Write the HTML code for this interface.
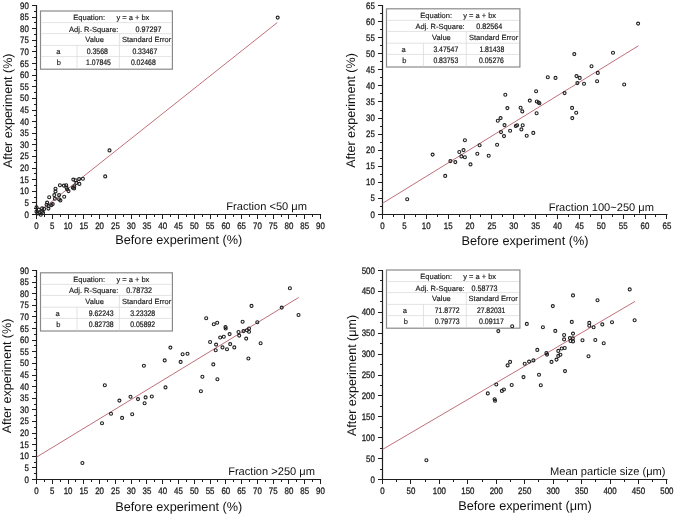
<!DOCTYPE html><html><head><meta charset="utf-8"><style>html,body{margin:0;padding:0;background:#fff;}svg{display:block;will-change:transform;}</style></head><body>
<svg width="675" height="515" viewBox="0 0 675 515" font-family='"Liberation Sans", sans-serif' text-rendering="geometricPrecision">
<rect width="675" height="515" fill="#fff"/>
<g><path d="M36.5 214.5V4.9 M35.9 214.5H321.1" stroke="#1e1e1e" stroke-width="1.2" fill="none"/><path d="M36.5 214.5v4.5M44.5 214.5v2.5M52.5 214.5v4.5M60.5 214.5v2.5M68.5 214.5v4.5M75.5 214.5v2.5M83.5 214.5v4.5M91.5 214.5v2.5M99.5 214.5v4.5M107.5 214.5v2.5M115.5 214.5v4.5M123.5 214.5v2.5M131.5 214.5v4.5M139.5 214.5v2.5M146.5 214.5v4.5M154.5 214.5v2.5M162.5 214.5v4.5M170.5 214.5v2.5M178.5 214.5v4.5M186.5 214.5v2.5M194.5 214.5v4.5M202.5 214.5v2.5M210.5 214.5v4.5M217.5 214.5v2.5M225.5 214.5v4.5M233.5 214.5v2.5M241.5 214.5v4.5M249.5 214.5v2.5M257.5 214.5v4.5M265.5 214.5v2.5M273.5 214.5v4.5M281.5 214.5v2.5M288.5 214.5v4.5M296.5 214.5v2.5M304.5 214.5v4.5M312.5 214.5v2.5M320.5 214.5v4.5M36.5 214.5h-4.5M36.5 208.5h-2.5M36.5 202.5h-4.5M36.5 197.5h-2.5M36.5 191.5h-4.5M36.5 185.5h-2.5M36.5 179.5h-4.5M36.5 173.5h-2.5M36.5 168.5h-4.5M36.5 162.5h-2.5M36.5 156.5h-4.5M36.5 150.5h-2.5M36.5 144.5h-4.5M36.5 139.5h-2.5M36.5 133.5h-4.5M36.5 127.5h-2.5M36.5 121.5h-4.5M36.5 115.5h-2.5M36.5 110.5h-4.5M36.5 104.5h-2.5M36.5 98.5h-4.5M36.5 92.5h-2.5M36.5 86.5h-4.5M36.5 80.5h-2.5M36.5 75.5h-4.5M36.5 69.5h-2.5M36.5 63.5h-4.5M36.5 57.5h-2.5M36.5 51.5h-4.5M36.5 46.5h-2.5M36.5 40.5h-4.5M36.5 34.5h-2.5M36.5 28.5h-4.5M36.5 22.5h-2.5M36.5 17.5h-4.5M36.5 11.5h-2.5M36.5 5.5h-4.5" stroke="#1e1e1e" stroke-width="1" fill="none"/><g font-size="9.3" fill="#1e1e1e" stroke="#1e1e1e" stroke-width="0.3" text-anchor="middle"><text transform="translate(36.5 228.5) scale(0.85 1)">0</text><text transform="translate(52.28 228.5) scale(0.85 1)">5</text><text transform="translate(68.06 228.5) scale(0.85 1)">10</text><text transform="translate(83.83 228.5) scale(0.85 1)">15</text><text transform="translate(99.61 228.5) scale(0.85 1)">20</text><text transform="translate(115.39 228.5) scale(0.85 1)">25</text><text transform="translate(131.17 228.5) scale(0.85 1)">30</text><text transform="translate(146.94 228.5) scale(0.85 1)">35</text><text transform="translate(162.72 228.5) scale(0.85 1)">40</text><text transform="translate(178.5 228.5) scale(0.85 1)">45</text><text transform="translate(194.28 228.5) scale(0.85 1)">50</text><text transform="translate(210.06 228.5) scale(0.85 1)">55</text><text transform="translate(225.83 228.5) scale(0.85 1)">60</text><text transform="translate(241.61 228.5) scale(0.85 1)">65</text><text transform="translate(257.39 228.5) scale(0.85 1)">70</text><text transform="translate(273.17 228.5) scale(0.85 1)">75</text><text transform="translate(288.94 228.5) scale(0.85 1)">80</text><text transform="translate(304.72 228.5) scale(0.85 1)">85</text><text transform="translate(320.5 228.5) scale(0.85 1)">90</text></g><g font-size="9.3" fill="#1e1e1e" stroke="#1e1e1e" stroke-width="0.3" text-anchor="end"><text transform="translate(28.9 217.5) scale(0.85 1)">0</text><text transform="translate(28.9 205.89) scale(0.85 1)">5</text><text transform="translate(28.9 194.28) scale(0.85 1)">10</text><text transform="translate(28.9 182.67) scale(0.85 1)">15</text><text transform="translate(28.9 171.06) scale(0.85 1)">20</text><text transform="translate(28.9 159.44) scale(0.85 1)">25</text><text transform="translate(28.9 147.83) scale(0.85 1)">30</text><text transform="translate(28.9 136.22) scale(0.85 1)">35</text><text transform="translate(28.9 124.61) scale(0.85 1)">40</text><text transform="translate(28.9 113) scale(0.85 1)">45</text><text transform="translate(28.9 101.39) scale(0.85 1)">50</text><text transform="translate(28.9 89.78) scale(0.85 1)">55</text><text transform="translate(28.9 78.17) scale(0.85 1)">60</text><text transform="translate(28.9 66.56) scale(0.85 1)">65</text><text transform="translate(28.9 54.94) scale(0.85 1)">70</text><text transform="translate(28.9 43.33) scale(0.85 1)">75</text><text transform="translate(28.9 31.72) scale(0.85 1)">80</text><text transform="translate(28.9 20.11) scale(0.85 1)">85</text><text transform="translate(28.9 8.5) scale(0.85 1)">90</text></g><text x="178.8" y="244.3" font-size="12.7" fill="#111" text-anchor="middle">Before experiment (%)</text><text transform="translate(11.5 110.8) rotate(-90)" font-size="12.5" fill="#111" text-anchor="middle">After experiment (%)</text><text x="307" y="210.3" font-size="11.1" fill="#111" text-anchor="end">Fraction <50 μm</text><line x1="36.5" y1="213.67" x2="277.27" y2="22.59" stroke="#c0707a" stroke-width="1"/><rect x="40.5" y="11" width="131.9" height="58.2" fill="#fff" stroke="#8a8a8a" stroke-width="1.2"/><path d="M41.5 22.6H171.4M41.5 33.6H171.4M41.5 45.4H171.4M41.5 56.6H171.4M77.04 45.4V68.6M119.38 33.6V68.6" stroke="#dcdcdc" stroke-width="0.8" fill="none"/><g font-size="7.5" fill="#1a1a1a" stroke="#1a1a1a" stroke-width="0.16"><text x="73.3" y="19.8">Equation:</text><text x="116.4" y="19.8">y = a + bx</text><text x="69.1" y="31.5">Adj. R-Square:</text><text x="135.5" y="31.5" font-size="8" stroke-width="0.22" textLength="25.9" lengthAdjust="spacingAndGlyphs">0.97297</text><text x="85.3" y="41.9">Value</text><text x="122" y="41.9">Standard Error</text><text x="56.3" y="53.9">a</text><text x="86.7" y="53.9" font-size="8" stroke-width="0.22" textLength="21.3" lengthAdjust="spacingAndGlyphs">0.3568</text><text x="132.4" y="53.9" font-size="8" stroke-width="0.22" textLength="24.85" lengthAdjust="spacingAndGlyphs">0.33467</text><text x="56.7" y="65.3">b</text><text x="86.1" y="65.3" font-size="8" stroke-width="0.22" textLength="24.85" lengthAdjust="spacingAndGlyphs">1.07845</text><text x="130.9" y="65.3" font-size="8" stroke-width="0.22" textLength="24.85" lengthAdjust="spacingAndGlyphs">0.02468</text></g><g fill="none" stroke="#202020" stroke-width="1.1"><circle cx="36.5" cy="207.4" r="1.5"/><circle cx="36.5" cy="211.6" r="1.5"/><circle cx="38.8" cy="209.6" r="1.5"/><circle cx="42.1" cy="208.4" r="1.5"/><circle cx="44.1" cy="208.9" r="1.5"/><circle cx="39.6" cy="213.2" r="1.5"/><circle cx="42.1" cy="211.6" r="1.5"/><circle cx="40.8" cy="214.7" r="1.5"/><circle cx="43.1" cy="212.7" r="1.5"/><circle cx="37.6" cy="213.4" r="1.5"/><circle cx="47.1" cy="202.6" r="1.5"/><circle cx="46.6" cy="204.8" r="1.5"/><circle cx="48.7" cy="206.1" r="1.5"/><circle cx="51.4" cy="205.1" r="1.5"/><circle cx="52.7" cy="204.1" r="1.5"/><circle cx="48.4" cy="208.6" r="1.5"/><circle cx="49.2" cy="197.3" r="1.5"/><circle cx="55.5" cy="188.8" r="1.5"/><circle cx="55.5" cy="191.4" r="1.5"/><circle cx="54.3" cy="195.1" r="1.5"/><circle cx="59.1" cy="195.1" r="1.5"/><circle cx="64.2" cy="196.7" r="1.5"/><circle cx="54.9" cy="198.7" r="1.5"/><circle cx="59.1" cy="199.2" r="1.5"/><circle cx="60.4" cy="200.4" r="1.5"/><circle cx="59.9" cy="185.3" r="1.5"/><circle cx="63.9" cy="185.6" r="1.5"/><circle cx="66.2" cy="185.3" r="1.5"/><circle cx="66.5" cy="187.6" r="1.5"/><circle cx="67.2" cy="189.3" r="1.5"/><circle cx="68.5" cy="191.1" r="1.5"/><circle cx="73.3" cy="179.6" r="1.5"/><circle cx="75.6" cy="180.3" r="1.5"/><circle cx="79.1" cy="179.1" r="1.5"/><circle cx="82.9" cy="178.8" r="1.5"/><circle cx="79.4" cy="183.9" r="1.5"/><circle cx="76.4" cy="182.9" r="1.5"/><circle cx="74.3" cy="186.4" r="1.5"/><circle cx="72.8" cy="187.7" r="1.5"/><circle cx="74.1" cy="188.4" r="1.5"/><circle cx="109.5" cy="150.4" r="1.5"/><circle cx="105.2" cy="176.4" r="1.5"/><circle cx="277.7" cy="17.6" r="1.5"/></g></g>
<g><path d="M382.5 214.5V4.9 M381.9 214.5H667.5" stroke="#1e1e1e" stroke-width="1.2" fill="none"/><path d="M382.5 214.5v4.5M393.5 214.5v2.5M404.5 214.5v4.5M415.5 214.5v2.5M426.5 214.5v4.5M437.5 214.5v2.5M448.5 214.5v4.5M459.5 214.5v2.5M470.5 214.5v4.5M480.5 214.5v2.5M491.5 214.5v4.5M502.5 214.5v2.5M513.5 214.5v4.5M524.5 214.5v2.5M535.5 214.5v4.5M546.5 214.5v2.5M557.5 214.5v4.5M568.5 214.5v2.5M579.5 214.5v4.5M590.5 214.5v2.5M601.5 214.5v4.5M612.5 214.5v2.5M623.5 214.5v4.5M634.5 214.5v2.5M645.5 214.5v4.5M655.5 214.5v2.5M666.5 214.5v4.5M382.5 214.5h-4.5M382.5 206.5h-2.5M382.5 198.5h-4.5M382.5 190.5h-2.5M382.5 182.5h-4.5M382.5 174.5h-2.5M382.5 166.5h-4.5M382.5 158.5h-2.5M382.5 150.5h-4.5M382.5 142.5h-2.5M382.5 134.5h-4.5M382.5 126.5h-2.5M382.5 118.5h-4.5M382.5 110.5h-2.5M382.5 101.5h-4.5M382.5 93.5h-2.5M382.5 85.5h-4.5M382.5 77.5h-2.5M382.5 69.5h-4.5M382.5 61.5h-2.5M382.5 53.5h-4.5M382.5 45.5h-2.5M382.5 37.5h-4.5M382.5 29.5h-2.5M382.5 21.5h-4.5M382.5 13.5h-2.5M382.5 5.5h-4.5" stroke="#1e1e1e" stroke-width="1" fill="none"/><g font-size="9.3" fill="#1e1e1e" stroke="#1e1e1e" stroke-width="0.3" text-anchor="middle"><text transform="translate(382.5 228.5) scale(0.85 1)">0</text><text transform="translate(404.38 228.5) scale(0.85 1)">5</text><text transform="translate(426.25 228.5) scale(0.85 1)">10</text><text transform="translate(448.13 228.5) scale(0.85 1)">15</text><text transform="translate(470.01 228.5) scale(0.85 1)">20</text><text transform="translate(491.88 228.5) scale(0.85 1)">25</text><text transform="translate(513.76 228.5) scale(0.85 1)">30</text><text transform="translate(535.64 228.5) scale(0.85 1)">35</text><text transform="translate(557.52 228.5) scale(0.85 1)">40</text><text transform="translate(579.39 228.5) scale(0.85 1)">45</text><text transform="translate(601.27 228.5) scale(0.85 1)">50</text><text transform="translate(623.15 228.5) scale(0.85 1)">55</text><text transform="translate(645.02 228.5) scale(0.85 1)">60</text><text transform="translate(666.9 228.5) scale(0.85 1)">65</text></g><g font-size="9.3" fill="#1e1e1e" stroke="#1e1e1e" stroke-width="0.3" text-anchor="end"><text transform="translate(374.9 217.5) scale(0.85 1)">0</text><text transform="translate(374.9 201.42) scale(0.85 1)">5</text><text transform="translate(374.9 185.35) scale(0.85 1)">10</text><text transform="translate(374.9 169.27) scale(0.85 1)">15</text><text transform="translate(374.9 153.19) scale(0.85 1)">20</text><text transform="translate(374.9 137.12) scale(0.85 1)">25</text><text transform="translate(374.9 121.04) scale(0.85 1)">30</text><text transform="translate(374.9 104.96) scale(0.85 1)">35</text><text transform="translate(374.9 88.88) scale(0.85 1)">40</text><text transform="translate(374.9 72.81) scale(0.85 1)">45</text><text transform="translate(374.9 56.73) scale(0.85 1)">50</text><text transform="translate(374.9 40.65) scale(0.85 1)">55</text><text transform="translate(374.9 24.58) scale(0.85 1)">60</text><text transform="translate(374.9 8.5) scale(0.85 1)">65</text></g><text x="525" y="244.8" font-size="12.7" fill="#111" text-anchor="middle">Before experiment (%)</text><text transform="translate(355.3 110.5) rotate(-90)" font-size="12.5" fill="#111" text-anchor="middle">After experiment (%)</text><text x="654" y="210.5" font-size="11.1" fill="#111" text-anchor="end">Fraction 100~250 μm</text><line x1="382.5" y1="203.33" x2="638.46" y2="45.79" stroke="#c0707a" stroke-width="1"/><rect x="386.5" y="8.8" width="133.4" height="58.2" fill="#fff" stroke="#8a8a8a" stroke-width="1.2"/><path d="M387.5 20.4H518.9M387.5 31.4H518.9M387.5 43.2H518.9M387.5 54.4H518.9M423.45 43.2V66.4M466.27 31.4V66.4" stroke="#dcdcdc" stroke-width="0.8" fill="none"/><g font-size="7.5" fill="#1a1a1a" stroke="#1a1a1a" stroke-width="0.16"><text x="420.3" y="17.6">Equation:</text><text x="463.2" y="17.6">y = a + bx</text><text x="415.5" y="29.3">Adj. R-Square:</text><text x="476.3" y="29.3" font-size="8" stroke-width="0.22" textLength="25.9" lengthAdjust="spacingAndGlyphs">0.82564</text><text x="432.1" y="39.7">Value</text><text x="469" y="39.7">Standard Error</text><text x="401.6" y="51.7">a</text><text x="433.4" y="51.7" font-size="8" stroke-width="0.22" textLength="24.85" lengthAdjust="spacingAndGlyphs">3.47547</text><text x="479.4" y="51.7" font-size="8" stroke-width="0.22" textLength="24.85" lengthAdjust="spacingAndGlyphs">1.81438</text><text x="402.3" y="63.1">b</text><text x="433.4" y="63.1" font-size="8" stroke-width="0.22" textLength="24.85" lengthAdjust="spacingAndGlyphs">0.83753</text><text x="479" y="63.1" font-size="8" stroke-width="0.22" textLength="24.85" lengthAdjust="spacingAndGlyphs">0.05276</text></g><g fill="none" stroke="#202020" stroke-width="1.1"><circle cx="407.2" cy="199.2" r="1.5"/><circle cx="432.6" cy="154.6" r="1.5"/><circle cx="445.2" cy="175.9" r="1.5"/><circle cx="450.4" cy="161.1" r="1.5"/><circle cx="455.3" cy="162.1" r="1.5"/><circle cx="459.3" cy="152" r="1.5"/><circle cx="461.4" cy="156.4" r="1.5"/><circle cx="463.5" cy="150.1" r="1.5"/><circle cx="464.9" cy="140.3" r="1.5"/><circle cx="464.9" cy="157.2" r="1.5"/><circle cx="470.5" cy="164.4" r="1.5"/><circle cx="477.3" cy="153.7" r="1.5"/><circle cx="479.6" cy="145.3" r="1.5"/><circle cx="488.7" cy="155.8" r="1.5"/><circle cx="497.1" cy="144.8" r="1.5"/><circle cx="501" cy="132.1" r="1.5"/><circle cx="504" cy="136.1" r="1.5"/><circle cx="504.5" cy="125.1" r="1.5"/><circle cx="497.8" cy="120.7" r="1.5"/><circle cx="500.6" cy="118.1" r="1.5"/><circle cx="505.3" cy="94.8" r="1.5"/><circle cx="507.4" cy="108.1" r="1.5"/><circle cx="510.1" cy="130.7" r="1.5"/><circle cx="515.8" cy="126" r="1.5"/><circle cx="517.1" cy="125.2" r="1.5"/><circle cx="521.4" cy="129.4" r="1.5"/><circle cx="522.7" cy="125.2" r="1.5"/><circle cx="520.6" cy="107.8" r="1.5"/><circle cx="522.3" cy="111.4" r="1.5"/><circle cx="526.7" cy="135.7" r="1.5"/><circle cx="533.3" cy="132.9" r="1.5"/><circle cx="529.8" cy="100.6" r="1.5"/><circle cx="536.1" cy="91.2" r="1.5"/><circle cx="536.8" cy="101.5" r="1.5"/><circle cx="538.6" cy="102.5" r="1.5"/><circle cx="539.4" cy="103.2" r="1.5"/><circle cx="536.6" cy="113.2" r="1.5"/><circle cx="547.8" cy="77.2" r="1.5"/><circle cx="555.5" cy="77.9" r="1.5"/><circle cx="564.6" cy="93.1" r="1.5"/><circle cx="572.1" cy="107.9" r="1.5"/><circle cx="576.2" cy="112.8" r="1.5"/><circle cx="572.3" cy="118.1" r="1.5"/><circle cx="576.5" cy="76.1" r="1.5"/><circle cx="577.4" cy="83.1" r="1.5"/><circle cx="579.7" cy="77.9" r="1.5"/><circle cx="574.3" cy="54.1" r="1.5"/><circle cx="584" cy="83.8" r="1.5"/><circle cx="591.5" cy="66.3" r="1.5"/><circle cx="597.8" cy="72.9" r="1.5"/><circle cx="597.1" cy="81.2" r="1.5"/><circle cx="613" cy="52.7" r="1.5"/><circle cx="624.2" cy="84.5" r="1.5"/><circle cx="638.1" cy="23.6" r="1.5"/></g></g>
<g><path d="M36.5 479.5V269.9 M35.9 479.5H321.1" stroke="#1e1e1e" stroke-width="1.2" fill="none"/><path d="M36.5 479.5v4.5M44.5 479.5v2.5M52.5 479.5v4.5M60.5 479.5v2.5M68.5 479.5v4.5M75.5 479.5v2.5M83.5 479.5v4.5M91.5 479.5v2.5M99.5 479.5v4.5M107.5 479.5v2.5M115.5 479.5v4.5M123.5 479.5v2.5M131.5 479.5v4.5M139.5 479.5v2.5M146.5 479.5v4.5M154.5 479.5v2.5M162.5 479.5v4.5M170.5 479.5v2.5M178.5 479.5v4.5M186.5 479.5v2.5M194.5 479.5v4.5M202.5 479.5v2.5M210.5 479.5v4.5M217.5 479.5v2.5M225.5 479.5v4.5M233.5 479.5v2.5M241.5 479.5v4.5M249.5 479.5v2.5M257.5 479.5v4.5M265.5 479.5v2.5M273.5 479.5v4.5M281.5 479.5v2.5M288.5 479.5v4.5M296.5 479.5v2.5M304.5 479.5v4.5M312.5 479.5v2.5M320.5 479.5v4.5M36.5 479.5h-4.5M36.5 473.5h-2.5M36.5 467.5h-4.5M36.5 462.5h-2.5M36.5 456.5h-4.5M36.5 450.5h-2.5M36.5 444.5h-4.5M36.5 438.5h-2.5M36.5 433.5h-4.5M36.5 427.5h-2.5M36.5 421.5h-4.5M36.5 415.5h-2.5M36.5 409.5h-4.5M36.5 404.5h-2.5M36.5 398.5h-4.5M36.5 392.5h-2.5M36.5 386.5h-4.5M36.5 380.5h-2.5M36.5 375.5h-4.5M36.5 369.5h-2.5M36.5 363.5h-4.5M36.5 357.5h-2.5M36.5 351.5h-4.5M36.5 345.5h-2.5M36.5 340.5h-4.5M36.5 334.5h-2.5M36.5 328.5h-4.5M36.5 322.5h-2.5M36.5 316.5h-4.5M36.5 311.5h-2.5M36.5 305.5h-4.5M36.5 299.5h-2.5M36.5 293.5h-4.5M36.5 287.5h-2.5M36.5 282.5h-4.5M36.5 276.5h-2.5M36.5 270.5h-4.5" stroke="#1e1e1e" stroke-width="1" fill="none"/><g font-size="9.3" fill="#1e1e1e" stroke="#1e1e1e" stroke-width="0.3" text-anchor="middle"><text transform="translate(36.5 493.5) scale(0.85 1)">0</text><text transform="translate(52.28 493.5) scale(0.85 1)">5</text><text transform="translate(68.06 493.5) scale(0.85 1)">10</text><text transform="translate(83.83 493.5) scale(0.85 1)">15</text><text transform="translate(99.61 493.5) scale(0.85 1)">20</text><text transform="translate(115.39 493.5) scale(0.85 1)">25</text><text transform="translate(131.17 493.5) scale(0.85 1)">30</text><text transform="translate(146.94 493.5) scale(0.85 1)">35</text><text transform="translate(162.72 493.5) scale(0.85 1)">40</text><text transform="translate(178.5 493.5) scale(0.85 1)">45</text><text transform="translate(194.28 493.5) scale(0.85 1)">50</text><text transform="translate(210.06 493.5) scale(0.85 1)">55</text><text transform="translate(225.83 493.5) scale(0.85 1)">60</text><text transform="translate(241.61 493.5) scale(0.85 1)">65</text><text transform="translate(257.39 493.5) scale(0.85 1)">70</text><text transform="translate(273.17 493.5) scale(0.85 1)">75</text><text transform="translate(288.94 493.5) scale(0.85 1)">80</text><text transform="translate(304.72 493.5) scale(0.85 1)">85</text><text transform="translate(320.5 493.5) scale(0.85 1)">90</text></g><g font-size="9.3" fill="#1e1e1e" stroke="#1e1e1e" stroke-width="0.3" text-anchor="end"><text transform="translate(28.9 482.5) scale(0.85 1)">0</text><text transform="translate(28.9 470.89) scale(0.85 1)">5</text><text transform="translate(28.9 459.28) scale(0.85 1)">10</text><text transform="translate(28.9 447.67) scale(0.85 1)">15</text><text transform="translate(28.9 436.06) scale(0.85 1)">20</text><text transform="translate(28.9 424.44) scale(0.85 1)">25</text><text transform="translate(28.9 412.83) scale(0.85 1)">30</text><text transform="translate(28.9 401.22) scale(0.85 1)">35</text><text transform="translate(28.9 389.61) scale(0.85 1)">40</text><text transform="translate(28.9 378) scale(0.85 1)">45</text><text transform="translate(28.9 366.39) scale(0.85 1)">50</text><text transform="translate(28.9 354.78) scale(0.85 1)">55</text><text transform="translate(28.9 343.17) scale(0.85 1)">60</text><text transform="translate(28.9 331.56) scale(0.85 1)">65</text><text transform="translate(28.9 319.94) scale(0.85 1)">70</text><text transform="translate(28.9 308.33) scale(0.85 1)">75</text><text transform="translate(28.9 296.72) scale(0.85 1)">80</text><text transform="translate(28.9 285.11) scale(0.85 1)">85</text><text transform="translate(28.9 273.5) scale(0.85 1)">90</text></g><text x="178.8" y="510.8" font-size="12.7" fill="#111" text-anchor="middle">Before experiment (%)</text><text transform="translate(11.1 376) rotate(-90)" font-size="12.5" fill="#111" text-anchor="middle">After experiment (%)</text><text x="315" y="474.8" font-size="11.1" fill="#111" text-anchor="end">Fraction >250 μm</text><line x1="36.5" y1="457.15" x2="298.73" y2="297.49" stroke="#c0707a" stroke-width="1"/><rect x="40.5" y="272.8" width="131.9" height="58.2" fill="#fff" stroke="#8a8a8a" stroke-width="1.2"/><path d="M41.5 284.4H171.4M41.5 295.4H171.4M41.5 307.2H171.4M41.5 318.4H171.4M77.04 307.2V330.4M119.38 295.4V330.4" stroke="#dcdcdc" stroke-width="0.8" fill="none"/><g font-size="7.5" fill="#1a1a1a" stroke="#1a1a1a" stroke-width="0.16"><text x="73.3" y="281.6">Equation:</text><text x="116.4" y="281.6">y = a + bx</text><text x="69.1" y="293.3">Adj. R-Square:</text><text x="126.2" y="293.3" font-size="8" stroke-width="0.22" textLength="25.9" lengthAdjust="spacingAndGlyphs">0.78732</text><text x="85.3" y="303.7">Value</text><text x="122" y="303.7">Standard Error</text><text x="55.6" y="315.7">a</text><text x="88.8" y="315.7" font-size="8" stroke-width="0.22" textLength="24.85" lengthAdjust="spacingAndGlyphs">9.62243</text><text x="130.3" y="315.7" font-size="8" stroke-width="0.22" textLength="24.85" lengthAdjust="spacingAndGlyphs">3.23328</text><text x="56.3" y="327.1">b</text><text x="88.8" y="327.1" font-size="8" stroke-width="0.22" textLength="24.85" lengthAdjust="spacingAndGlyphs">0.82738</text><text x="130.3" y="327.1" font-size="8" stroke-width="0.22" textLength="24.85" lengthAdjust="spacingAndGlyphs">0.05892</text></g><g fill="none" stroke="#202020" stroke-width="1.1"><circle cx="82.4" cy="463" r="1.5"/><circle cx="102" cy="423.2" r="1.5"/><circle cx="104.8" cy="385.2" r="1.5"/><circle cx="111" cy="413.8" r="1.5"/><circle cx="119.4" cy="400.6" r="1.5"/><circle cx="122.1" cy="417.9" r="1.5"/><circle cx="130.5" cy="396.8" r="1.5"/><circle cx="132.2" cy="414.3" r="1.5"/><circle cx="138" cy="399.1" r="1.5"/><circle cx="143.9" cy="365.8" r="1.5"/><circle cx="144.6" cy="403.2" r="1.5"/><circle cx="145.6" cy="397.4" r="1.5"/><circle cx="151.8" cy="396.5" r="1.5"/><circle cx="165.5" cy="387.4" r="1.5"/><circle cx="164.7" cy="360.4" r="1.5"/><circle cx="170.4" cy="347.6" r="1.5"/><circle cx="180.6" cy="361.9" r="1.5"/><circle cx="182.6" cy="354.2" r="1.5"/><circle cx="187.5" cy="353.8" r="1.5"/><circle cx="200.9" cy="391.2" r="1.5"/><circle cx="202.4" cy="376.8" r="1.5"/><circle cx="210.1" cy="342" r="1.5"/><circle cx="213.8" cy="324.3" r="1.5"/><circle cx="217.2" cy="322.8" r="1.5"/><circle cx="213.3" cy="364.4" r="1.5"/><circle cx="216.1" cy="344.6" r="1.5"/><circle cx="215.7" cy="350.3" r="1.5"/><circle cx="217.4" cy="379.2" r="1.5"/><circle cx="220.2" cy="337.5" r="1.5"/><circle cx="223.8" cy="336.7" r="1.5"/><circle cx="222.5" cy="347.4" r="1.5"/><circle cx="225.5" cy="327.1" r="1.5"/><circle cx="225.7" cy="328.5" r="1.5"/><circle cx="227" cy="349.3" r="1.5"/><circle cx="229.6" cy="334.1" r="1.5"/><circle cx="230.2" cy="344.1" r="1.5"/><circle cx="234.3" cy="347.4" r="1.5"/><circle cx="238.5" cy="332" r="1.5"/><circle cx="239.2" cy="335.6" r="1.5"/><circle cx="242.6" cy="321.7" r="1.5"/><circle cx="243.5" cy="331.1" r="1.5"/><circle cx="246.2" cy="338.6" r="1.5"/><circle cx="248.4" cy="358.5" r="1.5"/><circle cx="246.9" cy="330.3" r="1.5"/><circle cx="249" cy="328.5" r="1.5"/><circle cx="249" cy="331.8" r="1.5"/><circle cx="251.5" cy="305.9" r="1.5"/><circle cx="206.2" cy="318.3" r="1.5"/><circle cx="257.3" cy="322.3" r="1.5"/><circle cx="260.6" cy="343.3" r="1.5"/><circle cx="281.7" cy="307.6" r="1.5"/><circle cx="289.9" cy="288.2" r="1.5"/><circle cx="298.5" cy="315" r="1.5"/></g></g>
<g><path d="M382.5 479.5V269.9 M381.9 479.5H667.5" stroke="#1e1e1e" stroke-width="1.2" fill="none"/><path d="M382.5 479.5v4.5M396.5 479.5v2.5M410.5 479.5v4.5M425.5 479.5v2.5M439.5 479.5v4.5M453.5 479.5v2.5M467.5 479.5v4.5M482.5 479.5v2.5M496.5 479.5v4.5M510.5 479.5v2.5M524.5 479.5v4.5M538.5 479.5v2.5M553.5 479.5v4.5M567.5 479.5v2.5M581.5 479.5v4.5M595.5 479.5v2.5M610.5 479.5v4.5M624.5 479.5v2.5M638.5 479.5v4.5M652.5 479.5v2.5M666.5 479.5v4.5M382.5 479.5h-4.5M382.5 469.5h-2.5M382.5 458.5h-4.5M382.5 448.5h-2.5M382.5 437.5h-4.5M382.5 427.5h-2.5M382.5 416.5h-4.5M382.5 406.5h-2.5M382.5 395.5h-4.5M382.5 385.5h-2.5M382.5 375.5h-4.5M382.5 364.5h-2.5M382.5 354.5h-4.5M382.5 343.5h-2.5M382.5 333.5h-4.5M382.5 322.5h-2.5M382.5 312.5h-4.5M382.5 301.5h-2.5M382.5 291.5h-4.5M382.5 280.5h-2.5M382.5 270.5h-4.5" stroke="#1e1e1e" stroke-width="1" fill="none"/><g font-size="9.3" fill="#1e1e1e" stroke="#1e1e1e" stroke-width="0.3" text-anchor="middle"><text transform="translate(382.5 493.5) scale(0.85 1)">0</text><text transform="translate(410.94 493.5) scale(0.85 1)">50</text><text transform="translate(439.38 493.5) scale(0.85 1)">100</text><text transform="translate(467.82 493.5) scale(0.85 1)">150</text><text transform="translate(496.26 493.5) scale(0.85 1)">200</text><text transform="translate(524.7 493.5) scale(0.85 1)">250</text><text transform="translate(553.14 493.5) scale(0.85 1)">300</text><text transform="translate(581.58 493.5) scale(0.85 1)">350</text><text transform="translate(610.02 493.5) scale(0.85 1)">400</text><text transform="translate(638.46 493.5) scale(0.85 1)">450</text><text transform="translate(666.9 493.5) scale(0.85 1)">500</text></g><g font-size="9.3" fill="#1e1e1e" stroke="#1e1e1e" stroke-width="0.3" text-anchor="end"><text transform="translate(374.9 482.5) scale(0.85 1)">0</text><text transform="translate(374.9 461.6) scale(0.85 1)">50</text><text transform="translate(374.9 440.7) scale(0.85 1)">100</text><text transform="translate(374.9 419.8) scale(0.85 1)">150</text><text transform="translate(374.9 398.9) scale(0.85 1)">200</text><text transform="translate(374.9 378) scale(0.85 1)">250</text><text transform="translate(374.9 357.1) scale(0.85 1)">300</text><text transform="translate(374.9 336.2) scale(0.85 1)">350</text><text transform="translate(374.9 315.3) scale(0.85 1)">400</text><text transform="translate(374.9 294.4) scale(0.85 1)">450</text><text transform="translate(374.9 273.5) scale(0.85 1)">500</text></g><text x="525" y="510.1" font-size="12.7" fill="#111" text-anchor="middle">Before experiment (μm)</text><text transform="translate(356.3 375.5) rotate(-90)" font-size="12.5" fill="#111" text-anchor="middle">After experiment (μm)</text><text x="665.5" y="475.4" font-size="11.1" fill="#111" text-anchor="end">Mean particle size (μm)</text><line x1="382.5" y1="449.46" x2="635.05" y2="301.4" stroke="#c0707a" stroke-width="1"/><rect x="386.5" y="270" width="133.4" height="58.2" fill="#fff" stroke="#8a8a8a" stroke-width="1.2"/><path d="M387.5 281.6H518.9M387.5 292.6H518.9M387.5 304.4H518.9M387.5 315.6H518.9M423.45 304.4V327.6M466.27 292.6V327.6" stroke="#dcdcdc" stroke-width="0.8" fill="none"/><g font-size="7.5" fill="#1a1a1a" stroke="#1a1a1a" stroke-width="0.16"><text x="420.3" y="278.8">Equation:</text><text x="463.2" y="278.8">y = a + bx</text><text x="415.5" y="290.5">Adj. R-Square:</text><text x="471.5" y="290.5" font-size="8" stroke-width="0.22" textLength="25.9" lengthAdjust="spacingAndGlyphs">0.58773</text><text x="432.1" y="300.9">Value</text><text x="468.6" y="300.9">Standard Error</text><text x="402.7" y="312.9">a</text><text x="434.8" y="312.9" font-size="8" stroke-width="0.22" textLength="24.85" lengthAdjust="spacingAndGlyphs">71.8772</text><text x="476.9" y="312.9" font-size="8" stroke-width="0.22" textLength="28.4" lengthAdjust="spacingAndGlyphs">27.82031</text><text x="403.7" y="324.3">b</text><text x="434.8" y="324.3" font-size="8" stroke-width="0.22" textLength="24.85" lengthAdjust="spacingAndGlyphs">0.79773</text><text x="479" y="324.3" font-size="8" stroke-width="0.22" textLength="24.85" lengthAdjust="spacingAndGlyphs">0.09117</text></g><g fill="none" stroke="#202020" stroke-width="1.1"><circle cx="512.2" cy="326.2" r="1.5"/><circle cx="498.3" cy="331.1" r="1.5"/><circle cx="507.6" cy="365.4" r="1.5"/><circle cx="510.1" cy="361.9" r="1.5"/><circle cx="496.3" cy="384.5" r="1.5"/><circle cx="511.7" cy="385" r="1.5"/><circle cx="487.8" cy="393.4" r="1.5"/><circle cx="501.9" cy="390.9" r="1.5"/><circle cx="503.9" cy="389.5" r="1.5"/><circle cx="494.6" cy="399.2" r="1.5"/><circle cx="495" cy="400.8" r="1.5"/><circle cx="526.8" cy="323.9" r="1.5"/><circle cx="542.9" cy="327.2" r="1.5"/><circle cx="571.8" cy="321.9" r="1.5"/><circle cx="589.3" cy="322.9" r="1.5"/><circle cx="589.3" cy="325.8" r="1.5"/><circle cx="593.6" cy="327.2" r="1.5"/><circle cx="555.3" cy="330.9" r="1.5"/><circle cx="564.1" cy="335" r="1.5"/><circle cx="573" cy="333.6" r="1.5"/><circle cx="564.1" cy="339.4" r="1.5"/><circle cx="569.9" cy="338.1" r="1.5"/><circle cx="570.5" cy="341" r="1.5"/><circle cx="572.8" cy="338.4" r="1.5"/><circle cx="573" cy="341.4" r="1.5"/><circle cx="582.5" cy="340.2" r="1.5"/><circle cx="595.3" cy="340" r="1.5"/><circle cx="537.3" cy="349.9" r="1.5"/><circle cx="546.4" cy="353" r="1.5"/><circle cx="547" cy="354.6" r="1.5"/><circle cx="558.3" cy="350.9" r="1.5"/><circle cx="561.7" cy="348.5" r="1.5"/><circle cx="564.7" cy="348" r="1.5"/><circle cx="558.3" cy="355.9" r="1.5"/><circle cx="560.4" cy="354.8" r="1.5"/><circle cx="556.5" cy="359.6" r="1.5"/><circle cx="551.5" cy="361.9" r="1.5"/><circle cx="588.5" cy="356.3" r="1.5"/><circle cx="524.7" cy="363.7" r="1.5"/><circle cx="529.1" cy="361.6" r="1.5"/><circle cx="533.4" cy="360.4" r="1.5"/><circle cx="565" cy="371.1" r="1.5"/><circle cx="523.5" cy="377.1" r="1.5"/><circle cx="539" cy="374.8" r="1.5"/><circle cx="540.8" cy="385.2" r="1.5"/><circle cx="629.7" cy="289.4" r="1.5"/><circle cx="573" cy="295.4" r="1.5"/><circle cx="597.5" cy="300.3" r="1.5"/><circle cx="552.8" cy="306.1" r="1.5"/><circle cx="602.3" cy="324.4" r="1.5"/><circle cx="612" cy="322.2" r="1.5"/><circle cx="634.6" cy="320.3" r="1.5"/><circle cx="603.7" cy="343.2" r="1.5"/><circle cx="426.4" cy="460.2" r="1.5"/></g></g>
</svg></body></html>
